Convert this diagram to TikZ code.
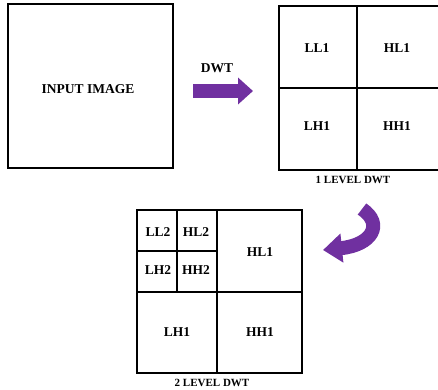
\documentclass[tikz,border=0pt]{standalone}
\usepackage{fontspec}
\setmainfont{Liberation Serif}
\usetikzlibrary{arrows.meta}
\definecolor{dwtpurple}{RGB}{112,48,160}

\begin{document}
\begin{tikzpicture}[x=1pt,y=-1pt,
    box/.style={line width=1.2pt},
    lbl/.style={font=\bfseries\fontsize{13.5}{15}\selectfont},
    lvl/.style={font=\bfseries\fontsize{11}{13}\selectfont},
    fat/.style={dwtpurple,line width=14pt,-{Triangle[length=15pt,width=26pt]}}]
    \useasboundingbox (0,0) rectangle (438,389);

    % input image
    \draw[box] (8,4) rectangle (173,168);
    \node[lbl] (in) at (88,89) {INPUT IMAGE};

    % dwt arrow
    \node[lbl] (dwt) at (217,68) {DWT};
    \coordinate (a1) at (193,91);
    \coordinate (a2) at (253,91);
    \draw[fat] (a1) -- (a2);

    % 1 level
    \draw[box] (279,6) rectangle (442,170)
               (357,6) -- (357,170)
               (279,88) -- (442,88);
    \node[lbl] (ll1) at (317,48) {LL1};
    \node[lbl] (hl1) at (397,48) {HL1};
    \node[lbl] (lh1) at (317,126) {LH1};
    \node[lbl] (hh1) at (397,126) {HH1};
    \node[lvl] (c1) at (353,180) {1 LEVEL DWT};

    % curved arrow
    \coordinate (b1) at (362,209);
    \coordinate (b2) at (323,250);
    \draw[fat,-{Triangle[length=19pt,width=28pt]}] (b1) .. controls (384,224) and (372,245) .. (b2);

    % 2 level
    \draw[box] (137,210) rectangle (302,373)
               (217,210) -- (217,373)
               (137,292) -- (302,292)
               (177,210) -- (177,292)
               (137,251) -- (217,251);
    \node[lbl] (ll2) at (158,232) {LL2};
    \node[lbl] (hl2) at (196,232) {HL2};
    \node[lbl] (lh2) at (158,270) {LH2};
    \node[lbl] (hh2) at (196,270) {HH2};
    \node[lbl] (hl1b) at (260,252) {HL1};
    \node[lbl] (lh1b) at (177,332) {LH1};
    \node[lbl] (hh1b) at (260,332) {HH1};
    \node[lvl] (c2) at (212,383) {2 LEVEL DWT};
\end{tikzpicture}
\end{document}
